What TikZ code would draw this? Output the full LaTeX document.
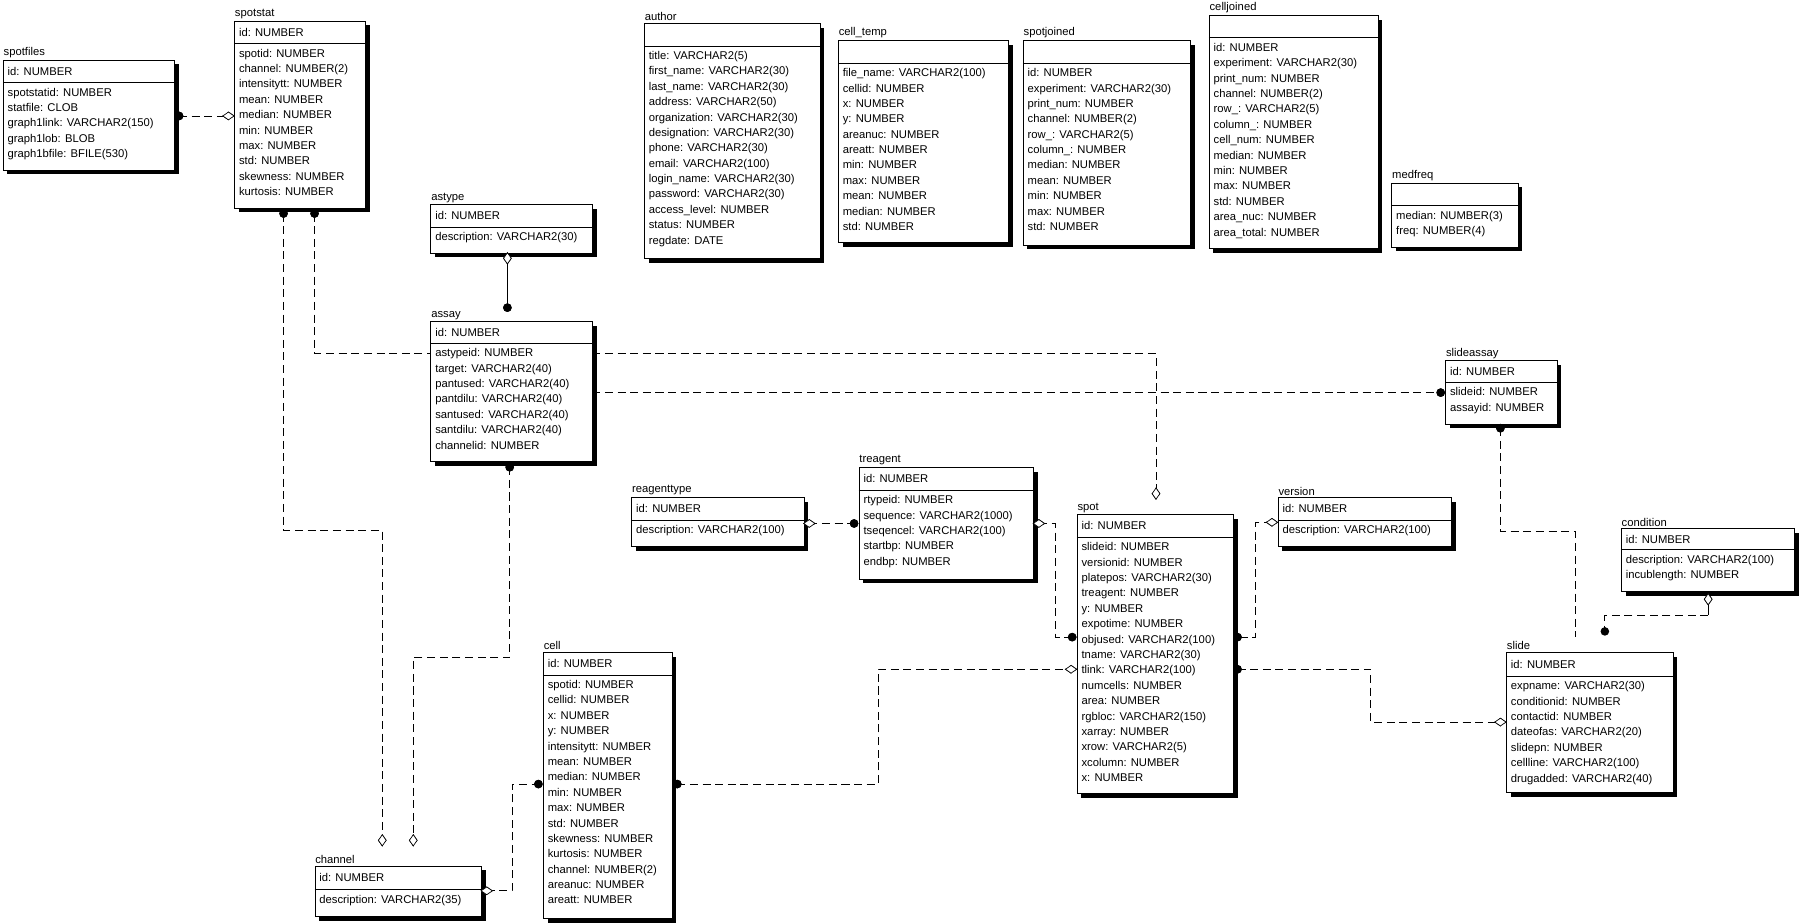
\documentclass[tikz,border=0pt]{standalone}
\usepackage{fontspec}
\setmainfont{Liberation Sans}
\usetikzlibrary{shapes.geometric}
\tikzset{
  conn/.style={line width=0.7pt, dash pattern=on 7pt off 4pt},
  solidconn/.style={line width=0.7pt},
  dot/.style={circle, fill=black, inner sep=0, minimum size=7.5},
  diah/.style={diamond, draw, fill=white, line width=0.6pt, inner sep=0, minimum width=10, minimum height=7},
  diav/.style={diamond, draw, fill=white, line width=0.6pt, inner sep=0, minimum width=7, minimum height=10},
  ent/.style={draw, fill=white, line width=0.7pt, inner sep=0, anchor=north west},
  ttl/.style={anchor=south west, inner sep=0.5pt, font=\fontsize{9.8}{11}\selectfont},
  hdr/.style={anchor=west, inner sep=0, font=\fontsize{9.8}{11}\selectfont},
  bdy/.style={anchor=north west, inner sep=0, align=left, font=\fontsize{9.8}{13.4}\selectfont},
}
% name, title, x1, top, x2, header bottom, bottom, header text, body
\newcommand\ertable[9]{%
  \fill[black] (#3+4,-#4-4) rectangle (#5+4,-#7-4);
  \node[ent, minimum width=#5-#3, minimum height=#7-#4] (#1) at (#3,-#4) {};
  \draw[line width=0.7pt] (#3,-#6) -- (#5,-#6);
  \node[ttl] (#1-t) at (#3,-#4+1) {#2};
  \node[hdr] (#1-h) at (#3+4,{-(#4+#6)/2}) {#8};
  \node[bdy] (#1-b) at (#3+4,-#6-4.5) {#9};
}
\begin{document}
\begin{tikzpicture}[x=1pt,y=1pt]
\useasboundingbox (0,0) rectangle (1568,-804);

\ertable{spotfiles}{spotfiles}{2.5}{52}{152}{72}{148}{id: NUMBER}
 {spotstatid: NUMBER\\statfile: CLOB\\graph1link: VARCHAR2(150)\\graph1lob: BLOB\\graph1bfile: BFILE(530)}
\ertable{spotstat}{spotstat}{204}{18}{318}{38}{181}{id: NUMBER}
 {spotid: NUMBER\\channel: NUMBER(2)\\intensitytt: NUMBER\\mean: NUMBER\\median: NUMBER\\min: NUMBER\\max: NUMBER\\std: NUMBER\\skewness: NUMBER\\kurtosis: NUMBER}
\ertable{astype}{astype}{375}{178}{516}{198}{220}{id: NUMBER}
 {description: VARCHAR2(30)}
\ertable{assay}{assay}{375}{280}{516}{299}{402}{id: NUMBER}
 {astypeid: NUMBER\\target: VARCHAR2(40)\\pantused: VARCHAR2(40)\\pantdilu: VARCHAR2(40)\\santused: VARCHAR2(40)\\santdilu: VARCHAR2(40)\\channelid: NUMBER}
\ertable{author}{author}{561}{20}{714}{40}{225}{}
 {title: VARCHAR2(5)\\first\_name: VARCHAR2(30)\\last\_name: VARCHAR2(30)\\address: VARCHAR2(50)\\organization: VARCHAR2(30)\\designation: VARCHAR2(30)\\phone: VARCHAR2(30)\\email: VARCHAR2(100)\\login\_name: VARCHAR2(30)\\password: VARCHAR2(30)\\access\_level: NUMBER\\status: NUMBER\\regdate: DATE}
\ertable{celltemp}{cell\_temp}{730}{35}{878}{55}{211}{}
 {file\_name: VARCHAR2(100)\\cellid: NUMBER\\x: NUMBER\\y: NUMBER\\areanuc: NUMBER\\areatt: NUMBER\\min: NUMBER\\max: NUMBER\\mean: NUMBER\\median: NUMBER\\std: NUMBER}
\ertable{spotjoined}{spotjoined}{891}{35}{1037}{55}{213}{}
 {id: NUMBER\\experiment: VARCHAR2(30)\\print\_num: NUMBER\\channel: NUMBER(2)\\row\_: VARCHAR2(5)\\column\_: NUMBER\\median: NUMBER\\mean: NUMBER\\min: NUMBER\\max: NUMBER\\std: NUMBER}
\ertable{celljoined}{celljoined}{1053}{13}{1200}{33}{216}{}
 {id: NUMBER\\experiment: VARCHAR2(30)\\print\_num: NUMBER\\channel: NUMBER(2)\\row\_: VARCHAR2(5)\\column\_: NUMBER\\cell\_num: NUMBER\\median: NUMBER\\min: NUMBER\\max: NUMBER\\std: NUMBER\\area\_nuc: NUMBER\\area\_total: NUMBER}
\ertable{medfreq}{medfreq}{1212}{159}{1322}{179}{215}{}
 {median: NUMBER(3)\\freq: NUMBER(4)}
\ertable{slideassay}{slideassay}{1259}{314}{1356}{333}{369}{id: NUMBER}
 {slideid: NUMBER\\assayid: NUMBER}
\ertable{reagenttype}{reagenttype}{550}{433}{700}{453}{476}{id: NUMBER}
 {description: VARCHAR2(100)}
\ertable{treagent}{treagent}{748}{407}{900}{427}{504}{id: NUMBER}
 {rtypeid: NUMBER\\sequence: VARCHAR2(1000)\\tseqencel: VARCHAR2(100)\\startbp: NUMBER\\endbp: NUMBER}
\ertable{spot}{spot}{938}{448}{1074}{468}{691}{id: NUMBER}
 {slideid: NUMBER\\versionid: NUMBER\\platepos: VARCHAR2(30)\\treagent: NUMBER\\y: NUMBER\\expotime: NUMBER\\objused: VARCHAR2(100)\\tname: VARCHAR2(30)\\tlink: VARCHAR2(100)\\numcells: NUMBER\\area: NUMBER\\rgbloc: VARCHAR2(150)\\xarray: NUMBER\\xrow: VARCHAR2(5)\\xcolumn: NUMBER\\x: NUMBER}
\ertable{version}{version}{1113}{433}{1264}{453}{476}{id: NUMBER}
 {description: VARCHAR2(100)}
\ertable{condition}{condition}{1412}{460}{1563}{479}{515}{id: NUMBER}
 {description: VARCHAR2(100)\\incublength: NUMBER}
\ertable{slide}{slide}{1312}{568}{1457}{589}{690}{id: NUMBER}
 {expname: VARCHAR2(30)\\conditionid: NUMBER\\contactid: NUMBER\\dateofas: VARCHAR2(20)\\slidepn: NUMBER\\cellline: VARCHAR2(100)\\drugadded: VARCHAR2(40)}
\ertable{channel}{channel}{274}{754}{419}{775}{798}{id: NUMBER}
 {description: VARCHAR2(35)}
\ertable{cell}{cell}{473}{568}{585}{588}{800}{id: NUMBER}
 {spotid: NUMBER\\cellid: NUMBER\\x: NUMBER\\y: NUMBER\\intensitytt: NUMBER\\mean: NUMBER\\median: NUMBER\\min: NUMBER\\max: NUMBER\\std: NUMBER\\skewness: NUMBER\\kurtosis: NUMBER\\channel: NUMBER(2)\\areanuc: NUMBER\\areatt: NUMBER}

% connectors
\draw[conn] (156,-101) node[dot] (d1) {} -- (199,-101) node[diah] (m1) {};
\node[dot] at (d1) {}; \node[diah] at (m1) {};
\coordinate (a2) at (375,-308);
\draw[conn] (274,-186) node[dot] (d2) {} -- (274,-308) -- (a2);
\node[dot] at (d2) {};
\draw[conn] (247,-186) node[dot] (d3) {} -- (247,-462) -- (333,-462) -- (333,-732) node[diav] (m3) {};
\node[dot] at (d3) {}; \node[diav] at (m3) {};
\draw[solidconn] (442,-225) node[diav] (m4) {} -- (442,-268) node[dot] (d4) {};
\node[diav] at (m4) {}; \node[dot] at (d4) {};
\draw[conn] (444,-407) node[dot] (d5) {} -- (444,-573) -- (360,-573) -- (360,-732) node[diav] (m5) {};
\node[dot] at (d5) {}; \node[diav] at (m5) {};
\coordinate (a6) at (516,-308);
\draw[conn] (a6) -- (1007,-308) -- (1007,-430) node[diav] (m6) {};
\node[diav] at (m6) {};
\coordinate (a7) at (516,-342);
\draw[conn] (a7) -- (1255,-342) node[dot] (d7) {};
\node[dot] at (d7) {};
\coordinate (a8) at (1372,-555);
\draw[conn] (1307,-373) node[dot] (d8) {} -- (1307,-463) -- (1372,-463) -- (a8);
\node[dot] at (d8) {};
\draw[solidconn] (1488,-522) node[diav] (m9) {} -- (1488,-536) coordinate (c9);
\draw[conn] (c9) -- (1398,-536) -- (1398,-548);
\node[dot] (d9) at (1398,-550) {};
\node[diav] at (m9) {};
\draw[conn] (705,-456) node[diah] (m10) {} -- (744,-456) node[dot] (d10) {};
\node[diah] at (m10) {}; \node[dot] at (d10) {};
\draw[conn] (905,-456) node[diah] (m11) {} -- (919,-456) -- (919,-555) -- (934,-555) node[dot] (d11) {};
\node[diah] at (m11) {}; \node[dot] at (d11) {};
\draw[conn] (1108,-455) node[diah] (m12) {} -- (1094,-455) -- (1094,-555) -- (1078,-555) node[dot] (d12) {};
\node[diah] at (m12) {}; \node[dot] at (d12) {};
\draw[conn] (1078,-583) node[dot] (d13) {} -- (1194,-583) -- (1194,-629) -- (1307,-629) node[diah] (m13) {};
\node[dot] at (d13) {}; \node[diah] at (m13) {};
\draw[conn] (590,-683) node[dot] (d14) {} -- (765,-683) -- (765,-583) -- (933,-583) node[diah] (m14) {};
\node[dot] at (d14) {}; \node[diah] at (m14) {};
\draw[conn] (424,-776) node[diah] (m15) {} -- (446,-776) -- (446,-683) -- (469,-683) node[dot] (d15) {};
\node[diah] at (m15) {}; \node[dot] at (d15) {};
\end{tikzpicture}
\end{document}
